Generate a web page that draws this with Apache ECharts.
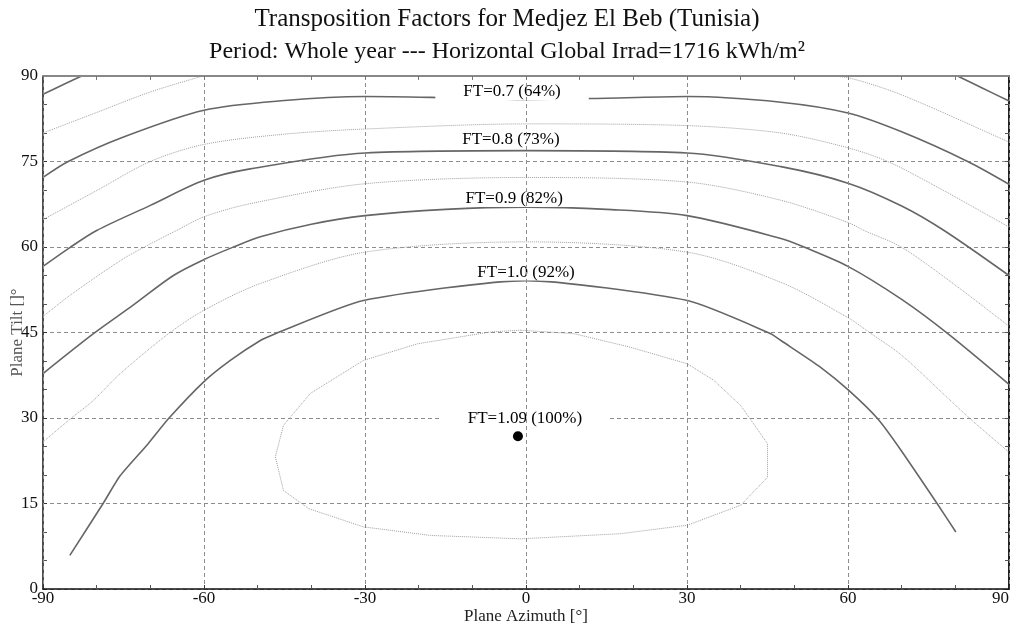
<!DOCTYPE html>
<html><head><meta charset="utf-8">
<script src="https://cdn.jsdelivr.net/npm/echarts@6/dist/echarts.min.js"></script>
<style>html,body{margin:0;padding:0;background:#fff}#c{width:1014px;height:630px}</style>
</head><body><div id="c"></div>
<script>
const titleLine1 = 'Transposition Factors for Medjez El Beb (Tunisia)';
const titleLine2 = 'Period: Whole year --- Horizontal Global Irrad=1716 kWh/m²';
const xAxisName = 'Plane Azimuth [°]';
const yAxisName = 'Plane Tilt []°';
const xTickValues = [-90, -60, -30, 0, 30, 60, 90];
const yTickValues = [0, 15, 30, 45, 60, 75, 90];

// contour lines, [azimuth, tilt]
const ft060 = [
  [[-90,86.8],[-86,88.6],[-82.8,90]],
  [[80.4,90],[85,87.9],[90,85.6]]
];
const ft065 = [
  [[-90,80.0],[-80,83.6],[-70,87.2],[-60.2,90]],
  [[55.9,90],[60,89.7],[68,87.4],[75.5,84.5],[90,78.4]]
];
const ft070 = [[[-90,72.2],[-85.3,75],[-75,79.3],[-60,84],[-45,85.7],[-30,86.4],[-15,86.2],[0,85.9],[15,86.1],[30,86.4],[47.5,85.4],[60,83.5],[70,80.2],[82.3,75],[90,71.0]]];
const ft075 = [[[-90,64.8],[-80,69.9],[-70,75],[-60,78],[-45,79.8],[-30,80.7],[0,81.6],[30,81.3],[47.5,80.0],[60,77.4],[67.4,75],[75.5,71.1],[90,63.5]]];
const ft080 = [[[-90,56.6],[-85,59.9],[-80,62.9],[-70,67.3],[-60,71.7],[-51.4,73.7],[-30,76.5],[0,76.9],[30,76.5],[47.5,74.1],[60,71.2],[70,67.2],[77.9,62.9],[90,55.0]]];
const ft085 = [[[-90,47.8],[-85,51.5],[-75.6,57.6],[-71.3,59.9],[-65.1,62.9],[-60,65.3],[-51.4,67.6],[-30,71.1],[0,72.2],[30,71.4],[47.5,68.2],[60,64.3],[63,62.9],[69.9,60],[80,53.3],[90,46.1]]];
const ft090 = [[[-90,37.8],[-80.6,44.8],[-73.2,49.8],[-65.7,55.0],[-60,57.8],[-54.5,60.0],[-49.5,61.8],[-40,64.0],[-30,65.5],[-15,66.6],[0,67.0],[15,66.6],[30,65.5],[47.5,61.5],[51.8,60],[60,56.6],[70,50.8],[78.6,44.8],[90,35.9]]];
const ft095 = [[[-90,25.8],[-84.7,30],[-80.6,33.1],[-75.6,37.8],[-66.6,44.8],[-60,48.9],[-49.5,53.6],[-30,59.1],[0,60.9],[30,59.1],[47.5,53.8],[60,47.6],[64.3,44.8],[70,41],[78.6,33.5],[82.6,30],[90,24.0]]];
const ft100 = [[[-85,5.9],[-78.8,15],[-75.6,19.9],[-70.4,25.5],[-66.6,29.9],[-60.1,36.3],[-55.1,40.1],[-49.5,43.6],[-46.7,44.8],[-30.3,50.6],[0,54.1],[30.1,50.6],[45.6,44.8],[47.5,43.6],[54.9,38.9],[60.2,34.8],[65.5,29.9],[69.9,24.3],[76.6,15],[80.1,10.0]]];
const ft105 = [[[-1,45.4],[8.9,44.8],[19.5,42.4],[30.1,39.5],[35.0,36.6],[40.0,32.2],[45.0,25.5],[45.0,19.6],[40.0,14.7],[30.1,11.2],[17.6,9.7],[-1.0,8.8],[-6.6,9.0],[-17.8,9.4],[-30.3,10.9],[-40.5,14.1],[-45.2,17.3],[-46.7,23.2],[-45.2,28.7],[-40.2,34.3],[-30.3,40.1],[-20.3,43.0],[-6.6,45.1],[-1,45.4]]];

// contour labels
const labelText = ['FT=0.7 (64%)','FT=0.8 (73%)','FT=0.9 (82%)','FT=1.0 (92%)','FT=1.09 (100%)'];
const labelAz   = [-2.6, -2.8, -2.2, 0, -0.2];
const labelTilt = [87.3, 78.8, 68.5, 55.6, 29.9];
// optimum point
const optAz = [-1.5];
const optTilt = [26.8];

const FONT = "'Liberation Serif','Times New Roman',serif";
const DARK = {color:'#666666', width:1.6, type:'solid'};
const LIGHT = {color:'#a0a0a0', width:1, type:[1,1]};

const contours = [
  {d:ft060, s:DARK, smooth:0.3},
  {d:ft065, s:LIGHT, smooth:0.3},
  {d:ft070, s:DARK, smooth:0.3},
  {d:ft075, s:LIGHT, smooth:0.3},
  {d:ft080, s:DARK, smooth:0.3},
  {d:ft085, s:LIGHT, smooth:0.3},
  {d:ft090, s:DARK, smooth:0.3},
  {d:ft095, s:LIGHT, smooth:0.3},
  {d:ft100, s:DARK, smooth:0.2},
  {d:ft105, s:LIGHT, smooth:false}
];

const series = [];
contours.forEach(c => c.d.forEach(piece => series.push({
  type:'line', data:piece, symbol:'none', showSymbol:false, smooth:c.smooth,
  lineStyle:c.s, silent:true, z:2, animation:false
})));
series.push({
  type:'scatter', data:labelAz.map((a,i)=>[a,labelTilt[i]]), symbolSize:0, silent:true, z:3, animation:false,
  itemStyle:{opacity:1},
  label:{show:true, position:'inside', formatter:p=>labelText[p.dataIndex], backgroundColor:'#fff',
    padding:[0,28,0,28], fontFamily:FONT, fontSize:17, color:'#000', textBorderWidth:0, opacity:1}
});
series.push({
  type:'scatter', data:optAz.map((a,i)=>[a,optTilt[i]]), symbolSize:10, itemStyle:{color:'#000', opacity:1}, silent:true, z:4, animation:false
});

const chart = echarts.init(document.getElementById('c'), null, {renderer:'canvas'});
const gridLine = {show:true, lineStyle:{color:'#8c8c8c', type:[4,3], width:1}};
chart.setOption({
  backgroundColor:'#fff',
  animation:false,
  title:[
    {text:titleLine1, left:'center', top:2, textStyle:{fontFamily:FONT, fontSize:25, fontWeight:'normal', color:'#111'}},
    {text:titleLine2, left:'center', top:35, textStyle:{fontFamily:FONT, fontSize:24, fontWeight:'normal', color:'#111'}}
  ],
  grid:{left:43, right:5, top:76, bottom:41, containLabel:false, outerBoundsMode:'none'},
  xAxis:[
    {type:'value', position:'bottom', min:xTickValues[0], max:xTickValues[xTickValues.length-1], interval:30, z:5,
     axisLine:{show:true, onZero:false, lineStyle:{color:'#111', width:1.5}},
     axisTick:{show:true, inside:true, length:4, lineStyle:{color:'#333'}},
     minorTick:{show:true, splitNumber:3, length:4, lineStyle:{color:'#555'}},
     splitLine:gridLine,
     axisLabel:{fontFamily:FONT, fontSize:17, color:'#111', margin:1, alignMaxLabel:'right'},
     name:xAxisName, nameLocation:'middle', nameGap:19, nameMoveOverlap:false,
     nameTextStyle:{fontFamily:FONT, fontSize:17, color:'#222'}},
    {type:'value', position:'top', min:-90, max:90, interval:30, z:5,
     axisLine:{show:true, onZero:false, lineStyle:{color:'#888', width:2}},
     axisTick:{show:true, inside:true, length:4, lineStyle:{color:'#777'}},
     minorTick:{show:true, splitNumber:3, length:4, lineStyle:{color:'#777'}},
     splitLine:{show:false}, axisLabel:{show:false}}
  ],
  yAxis:[
    {type:'value', position:'left', min:yTickValues[0], max:yTickValues[yTickValues.length-1], interval:15, z:1,
     axisLine:{show:true, onZero:false, lineStyle:{color:'#111', width:1.5}},
     axisTick:{show:true, inside:true, length:4, lineStyle:{color:'#333'}},
     minorTick:{show:true, splitNumber:3, length:4, lineStyle:{color:'#555'}},
     splitLine:gridLine,
     axisLabel:{fontFamily:FONT, fontSize:17, color:'#111', margin:5},
     name:yAxisName, nameLocation:'middle', nameGap:17, nameRotate:90, nameMoveOverlap:false,
     nameTextStyle:{fontFamily:FONT, fontSize:17, color:'#555'}},
    {type:'value', position:'right', min:0, max:90, interval:15, z:1,
     axisLine:{show:true, onZero:false, lineStyle:{color:'#222', width:2}},
     axisTick:{show:true, inside:true, length:4, lineStyle:{color:'#555'}},
     minorTick:{show:true, splitNumber:3, length:4, lineStyle:{color:'#555'}},
     splitLine:{show:false}, axisLabel:{show:false}}
  ],
  series:series
});
</script>
</body></html>
